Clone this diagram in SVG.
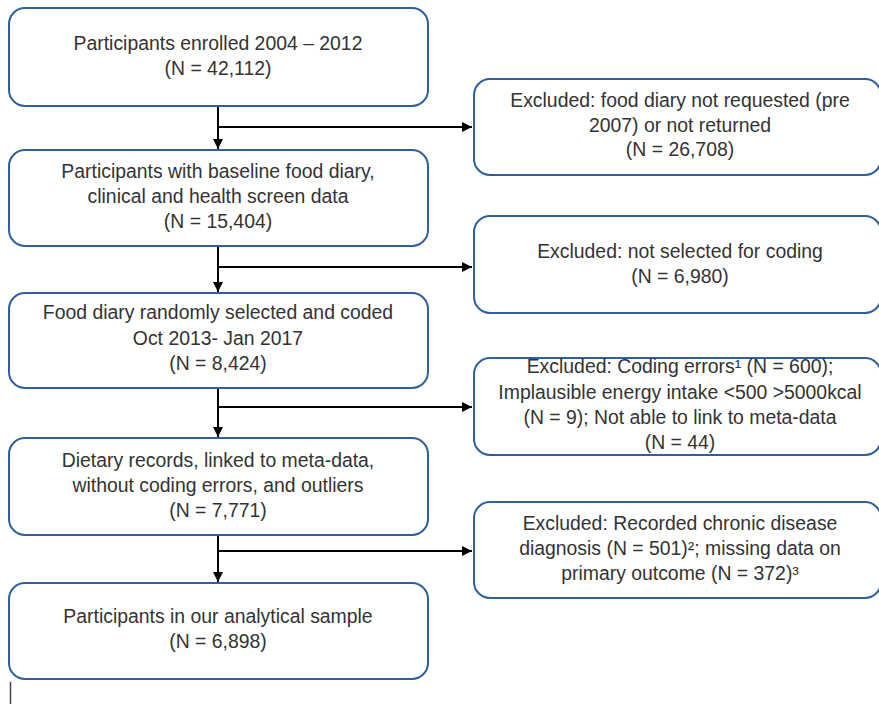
<svg xmlns="http://www.w3.org/2000/svg" width="879" height="704" viewBox="0 0 879 704">
<style>
.box{fill:#fff;stroke:#2f5f9f;stroke-width:2}
.t{font-family:"Liberation Sans",Arial,sans-serif;font-size:19.4px;fill:#333;text-anchor:middle}
.c{stroke:#000;stroke-width:2;fill:none}
</style>
<defs>
<marker id="ah" viewBox="0 0 10 10" refX="10" refY="5" markerWidth="5" markerHeight="5" orient="auto" markerUnits="strokeWidth">
<path d="M0,0 L10,5 L0,10 Z" fill="#000"/>
</marker>
</defs>
<rect x="0" y="0" width="879" height="704" fill="#fff"/>
<g id="connectors">
<line class="c" x1="218" y1="106" x2="218" y2="149" marker-end="url(#ah)"/>
<line class="c" x1="218" y1="127" x2="472" y2="127" marker-end="url(#ah)"/>
<line class="c" x1="218" y1="246" x2="218" y2="292" marker-end="url(#ah)"/>
<line class="c" x1="218" y1="267" x2="472" y2="267" marker-end="url(#ah)"/>
<line class="c" x1="218" y1="388" x2="218" y2="437" marker-end="url(#ah)"/>
<line class="c" x1="218" y1="407" x2="472" y2="407" marker-end="url(#ah)"/>
<line class="c" x1="218" y1="535" x2="218" y2="582" marker-end="url(#ah)"/>
<line class="c" x1="218" y1="551" x2="472" y2="551" marker-end="url(#ah)"/>
</g>
<g id="n1">
<rect class="box" x="9" y="8" width="419" height="98" rx="16"/>
<text class="t" x="218" y="50">Participants enrolled 2004 – 2012</text>
<text class="t" x="218" y="75">(N = 42,112)</text>
</g>
<g id="n2">
<rect class="box" x="9" y="150" width="419" height="96" rx="16"/>
<text class="t" x="218" y="178">Participants with baseline food diary,</text>
<text class="t" x="218" y="203">clinical and health screen data</text>
<text class="t" x="218" y="228">(N = 15,404)</text>
</g>
<g id="n3">
<rect class="box" x="9" y="293" width="419" height="95" rx="16"/>
<text class="t" x="218" y="319">Food diary randomly selected and coded</text>
<text class="t" x="218" y="345">Oct 2013- Jan 2017</text>
<text class="t" x="218" y="370">(N = 8,424)</text>
</g>
<g id="n4">
<rect class="box" x="9" y="438" width="419" height="97" rx="16"/>
<text class="t" x="218" y="467">Dietary records, linked to meta-data,</text>
<text class="t" x="218" y="492">without coding errors, and outliers</text>
<text class="t" x="218" y="517">(N = 7,771)</text>
</g>
<g id="n5">
<rect class="box" x="9" y="583" width="419" height="96" rx="16"/>
<text class="t" x="218" y="623">Participants in our analytical sample</text>
<text class="t" x="218" y="648">(N = 6,898)</text>
</g>
<g id="e1">
<rect class="box" x="474" y="79" width="407" height="96" rx="16"/>
<text class="t" x="680" y="107">Excluded: food diary not requested (pre</text>
<text class="t" x="680" y="132">2007) or not returned</text>
<text class="t" x="680" y="156">(N = 26,708)</text>
</g>
<g id="e2">
<rect class="box" x="474" y="216" width="407" height="97" rx="16"/>
<text class="t" x="680" y="258">Excluded: not selected for coding</text>
<text class="t" x="680" y="283">(N = 6,980)</text>
</g>
<g id="e3">
<rect class="box" x="474" y="358" width="407" height="97" rx="16"/>
<text class="t" x="680" y="373">Excluded: Coding errors¹ (N = 600);</text>
<text class="t" x="680" y="399">Implausible energy intake &lt;500 &gt;5000kcal</text>
<text class="t" x="680" y="424">(N = 9); Not able to link to meta-data</text>
<text class="t" x="680" y="449">(N = 44)</text>
</g>
<g id="e4">
<rect class="box" x="474" y="502" width="407" height="96" rx="16"/>
<text class="t" x="680" y="530">Excluded: Recorded chronic disease</text>
<text class="t" x="680" y="555">diagnosis (N = 501)²; missing data on</text>
<text class="t" x="680" y="580">primary outcome (N = 372)³</text>
</g>
<line x1="10.5" y1="682" x2="10.5" y2="704" stroke="#444" stroke-width="1.5"/>
</svg>
